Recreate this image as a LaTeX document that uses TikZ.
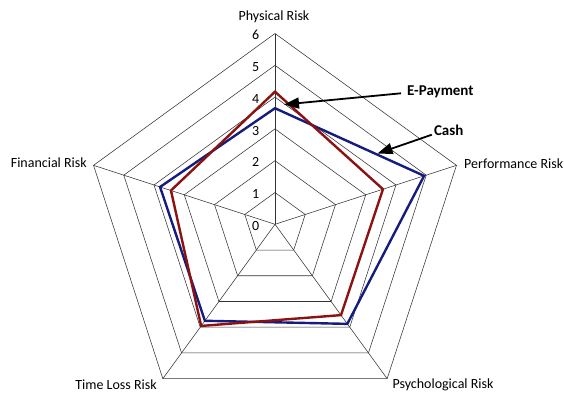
\documentclass[tikz,border=0pt]{standalone}
\usepackage{fontspec}
\setmainfont{Carlito}
\usetikzlibrary{arrows.meta}
\definecolor{cashblue}{RGB}{20,28,125}
\definecolor{epayred}{RGB}{140,18,18}
\begin{document}
\begin{tikzpicture}[x=1pt,y=1pt,
  gridline/.style={draw=black!80,line width=0.55pt},
  series/.style={line width=2.4pt,line join=miter},
  axislabel/.style={inner sep=0pt,font=\fontsize{14}{16}\selectfont},
  ticklabel/.style={inner sep=0pt,font=\fontsize{14}{16}\selectfont},
  callout/.style={inner sep=0pt,font=\fontsize{15}{17}\selectfont\bfseries},
  pointer/.style={draw=black,line width=1.8pt,-{Triangle[length=15pt,width=11pt]}}]
\useasboundingbox (0,0) rectangle (564,392);
\begin{scope}[shift={(275,167.7)}]
  % grid rings
  \foreach \r in {1,...,6}
    \draw[gridline] (90:\r*31.8) -- (18:\r*31.8) -- (-54:\r*31.8) -- (-126:\r*31.8) -- (162:\r*31.8) -- cycle;
  % spokes
  \foreach \a in {90,18,-54,-126,162}
    \draw[gridline] (0,0) -- (\a:6*31.8);
  % tick labels
  \foreach \k in {0,...,6}
    \node[ticklabel] (tick\k) at (-19.3,\k*31.8-1.7) {\k};
  % series
  \draw[series,cashblue] (90:3.65*31.8) -- (18:4.93*31.8) -- (-54:3.87*31.8) -- (-126:3.75*31.8) -- (162:3.8*31.8) -- cycle;
  \draw[series,epayred] (90:4.17*31.8) -- (18:3.57*31.8) -- (-54:3.53*31.8) -- (-126:3.95*31.8) -- (162:3.44*31.8) -- cycle;
\end{scope}
% axis labels
\node[axislabel] (phys) at (274,375) {Physical Risk};
\node[axislabel,anchor=west] (perf) at (464,228) {Performance Risk};
\node[axislabel,anchor=east] (fin) at (87,229) {Financial Risk};
\node[axislabel] (time) at (116,7) {Time Loss Risk};
\node[axislabel] (psych) at (443,7) {Psychological Risk};
% callouts
\node[callout] (epay) at (440.4,299.7) {E-Payment};
\node[callout] (cash) at (448.7,261.3) {Cash};
\coordinate (epaytip) at (284,287.5);
\coordinate (cashtip) at (377.5,238.5);
\draw[pointer] ([xshift=-6pt,yshift=-1pt]epay.west) -- (epaytip);
\draw[pointer] ([xshift=-2pt,yshift=-4pt]cash.west) -- (cashtip);
\end{tikzpicture}
\end{document}
